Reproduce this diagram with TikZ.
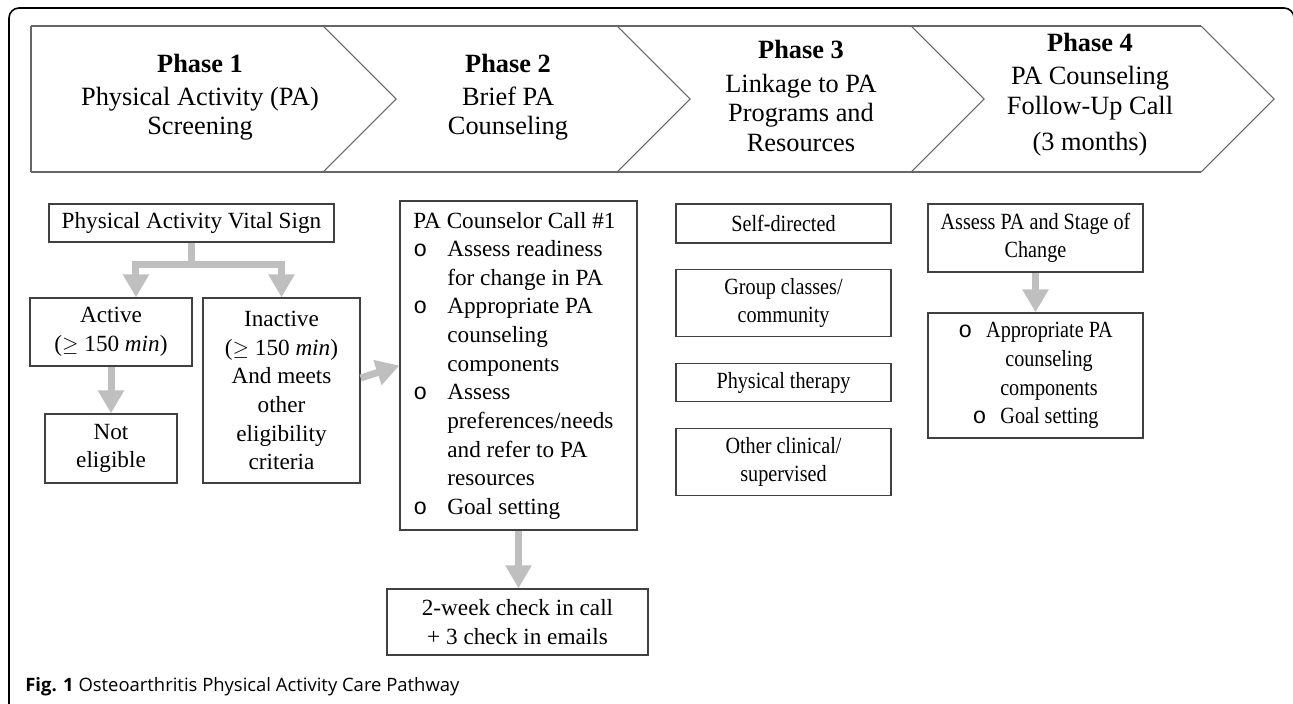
\documentclass[tikz,border=0pt]{standalone}
\usepackage{fontspec}
\setmainfont{Liberation Serif}
\newfontfamily\narrowserif[FakeStretch=0.87]{Liberation Serif}
\newfontfamily\capfont{Open Sans}
\newfontfamily\bulfont{Liberation Mono}
\usetikzlibrary{arrows.meta,positioning}
\definecolor{boxline}{HTML}{404040}
\definecolor{chevline}{HTML}{666666}
\definecolor{arrowgray}{HTML}{BFBFBF}
\newcommand{\bul}{{\bulfont o}}
\tikzstyle{box} = [rectangle, draw = boxline, line width = 0.8pt, align = center, inner sep = 2pt, font = \fontsize{13.2}{16.3}\selectfont]
\tikzstyle{narrowbox} = [box, font = \narrowserif\fontsize{13.2}{16.3}\selectfont, minimum width = 4.3cm]
\tikzstyle{phase} = [align = center, font = \fontsize{15}{16.8}\selectfont]
\tikzstyle{arrow} = [line width = 0.14cm, draw = arrowgray, -{Triangle[width = 0.5cm, length = 0.46cm]}]

\begin{document}
\begin{tikzpicture}[x = 0.02cm, y = -0.02cm, node distance = 1.59cm]
\useasboundingbox (0,0) rectangle (1293,703);

% frame and phase band
\draw[line width = 0.9pt, rounded corners = 0.2cm] (9,712) -- (9,8) -- (1294,8) -- (1294,712);
\draw[chevline, line width = 1pt] (31,26) -- (1201,26) (31,172) -- (1201,172) (31,26) -- (31,172);
\foreach \x in {323,617,911,1201}
	\draw[chevline, line width = 0.6pt] (\x,26) -- ({\x+73},99) -- (\x,172);

\node[phase](phase 1) at (200,97){\textbf{Phase 1}\\[2pt]Physical Activity (PA)\\Screening};
\node[phase](phase 2) at (508,97){\textbf{Phase 2}\\[2pt]Brief PA\\Counseling};
\node[phase](phase 3) at (801,96){\textbf{Phase 3}\\[2pt]Linkage to PA\\Programs and\\Resources};
\node[phase](phase 4) at (1090,95){\textbf{Phase 4}\\[2pt]PA Counseling\\Follow-Up Call\\[4pt](3 months)};

% phase 1
\node[box, minimum width = 5.7cm, minimum height = 0.76cm](vital) at (191.5,223){Physical Activity Vital Sign};
\node[box, minimum width = 3.24cm, minimum height = 1.36cm](active) at (111,332){Active\\(\(\geq\) 150 \textit{min})};
\node[box, minimum width = 3.14cm, minimum height = 3.7cm](inactive) at (281.5,390.5){Inactive\\(\(\geq\) 150 \textit{min})\\And meets\\other\\eligibility\\criteria};
\node[box, minimum width = 2.64cm, minimum height = 1.38cm](not eligible) at (111,448.5){Not\\eligible};

% phase 2
\node[box, minimum width = 4.74cm, minimum height = 6.58cm](counselor) at (518.5,365.5){%
\begin{tabular}{@{}l@{\hspace{0.4cm}}l@{}}
\multicolumn{2}{@{}l@{}}{PA Counselor Call \#1}\\
\bul & Assess readiness\\
 & for change in PA\\
\bul & Appropriate PA\\
 & counseling\\
 & components\\
\bul & Assess\\
 & preferences/needs\\
 & and refer to PA\\
 & resources\\
\bul & Goal setting
\end{tabular}\hspace{0.16cm}};
\node[box, minimum width = 5.22cm, minimum height = 1.32cm](check in) at (517.5,622){2-week check in call\\+ 3 check in emails};

% phase 3
\node[narrowbox, minimum height = 0.78cm](self) at (783.5,223.5){Self-directed};
\node[narrowbox, minimum height = 1.34cm, below of = self](group){Group classes/\\community};
\node[narrowbox, minimum height = 0.76cm, below of = group](therapy){Physical therapy};
\node[narrowbox, minimum height = 1.34cm, below of = therapy](clinical){Other clinical/\\supervised};

% phase 4
\node[narrowbox, minimum height = 1.36cm](assess) at (1035.5,238){Assess PA and Stage of\\Change};
\node[narrowbox, minimum height = 2.5cm](follow up) at (1035.5,375.5){\bul\hspace{0.28cm}Appropriate PA\\\hspace{0.54cm}counseling\\\hspace{0.54cm}components\\\bul\hspace{0.28cm}Goal setting};

\coordinate[below = 0.44cm of vital.south](fork);
\draw[arrow](vital.south) -- (fork) -| ([xshift = 0.5cm]active.north);
\draw[arrow](vital.south) -- (fork) -| (inactive.north);
\draw[arrow](active) -- (not eligible);
\draw[arrow]([yshift = 0.25cm]inactive.east) -- (counselor.west);
\draw[arrow](counselor.south) -- (counselor.south |- check in.north);
\draw[arrow](assess) -- (follow up);

\node[anchor = base west, inner sep = 0pt, font = \capfont\fontsize{10.5}{12}\selectfont](caption) at (25,691){\textbf{Fig. 1} Osteoarthritis Physical Activity Care Pathway};

\end{tikzpicture}
\end{document}
